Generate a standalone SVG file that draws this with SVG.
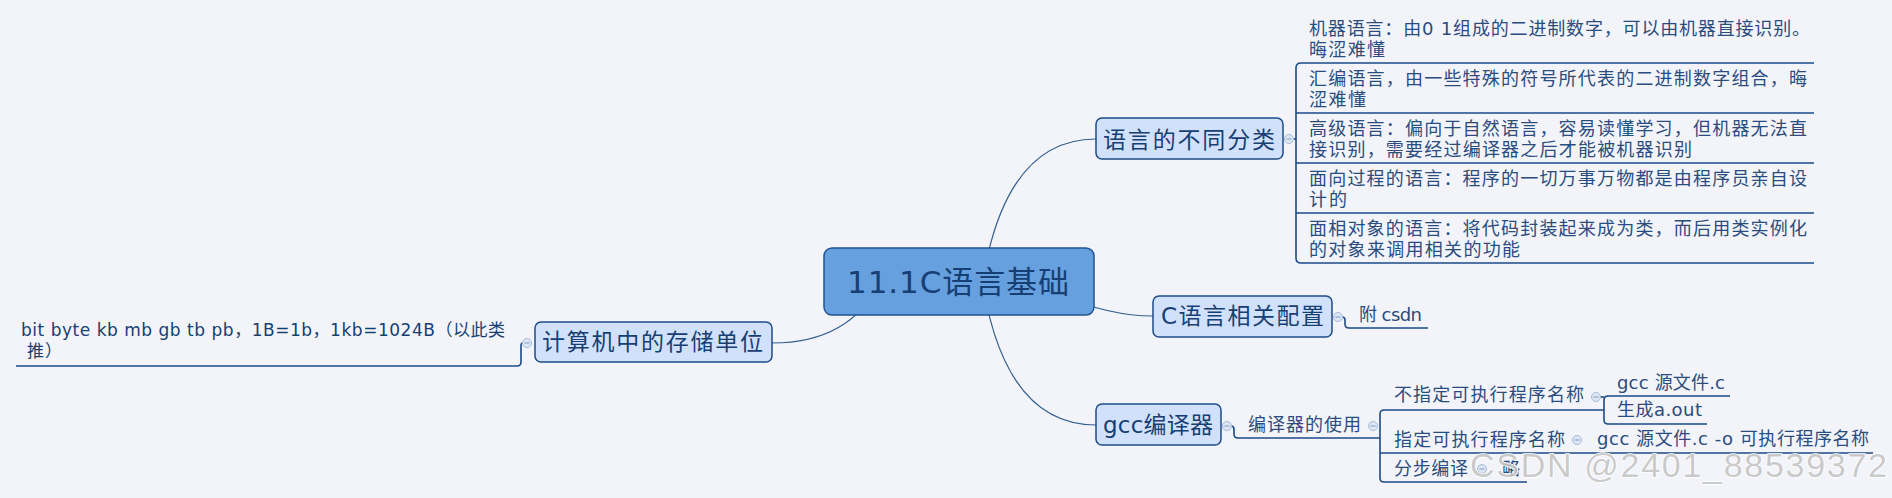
<svg xmlns="http://www.w3.org/2000/svg" xmlns:xlink="http://www.w3.org/1999/xlink" width="1892" height="498" viewBox="0 0 1892 498">
<style>
.t{font-family:"DejaVu Sans","Noto Sans CJK SC",sans-serif;fill:#163f73}
.big{font-size:23px}
.sm{font-size:18px;fill:#2a4c7f}
.node{fill:#d2e1fb;stroke:#1d4c88;stroke-width:1.5}
.root{fill:#67a0df;stroke:#22528e;stroke-width:1.5}
.curve{fill:none;stroke:#33608f;stroke-width:1.2}
.ul{fill:none;stroke:#1b4a86;stroke-width:1.6}
.col{fill:#dde6f4;stroke:#a7bbd8;stroke-width:1}
.minus{stroke:#8ea7cc;stroke-width:1.2}
.wm{font-family:"Liberation Sans","Noto Sans",sans-serif;font-size:34px;fill:#bdbdbd;fill-opacity:0.8;stroke:#ffffff;stroke-width:1.5;paint-order:stroke}
</style>
<defs>
<g id="cb"><circle r="4.5" class="col"/><line x1="-2.5" y1="0" x2="2.5" y2="0" class="minus"/></g>
</defs>
<rect x="0" y="0" width="1892" height="498" fill="#f2f4f9"/>

<g id="connectors">
<path class="curve" d="M980 300 Q1000 139 1096 139"/>
<path class="curve" d="M1060 295 Q1110 316 1153 316"/>
<path class="curve" d="M980 265 Q1000 425 1096 425"/>
<path class="curve" d="M880 282 Q850 343 772 343"/>
<path class="ul" d="M1293.5 139 L1296 139"/>
<path class="ul" d="M1814 63 L1301 63 Q1296 63 1296 68 L1296 258 Q1296 263 1301 263 L1814 263"/>
<path class="ul" d="M1296 113 L1814 113 M1296 163 L1814 163 M1296 213 L1814 213"/>
<path class="ul" d="M1342 317 Q1345 317 1345 320 L1345 324 Q1345 328 1349 328 L1428 328"/>
<path class="ul" d="M1231 426 Q1234 426 1234 429 L1234 434 Q1234 438 1238 438 L1380 438"/>
<path class="ul" d="M1604 410 L1384 410 Q1380 410 1380 414 L1380 478 Q1380 482 1384 482 L1527 482"/>
<path class="ul" d="M1380 453 L1873 453"/>
<path class="ul" d="M1730 396 L1608 396 Q1604 396 1604 400 L1604 420 Q1604 424 1608 424 L1707 424"/>
<path class="ul" d="M1600 397 L1604 397"/>
<path class="ul" d="M522.5 343 Q521 343 521 346 L521 362 Q521 366 517 366 L16 366"/>
</g>

<g id="root">
<rect class="root" x="824" y="248" width="270" height="67" rx="8"/>
<text class="t" x="847" y="293" font-size="31" textLength="222" fill="#0f3a70">11.1C语言基础</text>
</g>

<g id="lang-types">
<rect class="node" x="1096" y="118" width="187" height="41" rx="6"/>
<text class="t big" x="1103" y="148" textLength="172">语言的不同分类</text>
<use xlink:href="#cb" x="1289" y="139"/>
</g>
<g id="leaf-machine">
<text class="t sm" x="1309" y="35" textLength="501">机器语言：由0 1组成的二进制数字，可以由机器直接识别。</text>
<text class="t sm" x="1309" y="56" textLength="76">晦涩难懂</text>
</g>
<g id="leaf-asm">
<text class="t sm" x="1309" y="85" textLength="498">汇编语言，由一些特殊的符号所代表的二进制数字组合，晦</text>
<text class="t sm" x="1309" y="106" textLength="57">涩难懂</text>
</g>
<g id="leaf-high">
<text class="t sm" x="1309" y="135" textLength="498">高级语言：偏向于自然语言，容易读懂学习，但机器无法直</text>
<text class="t sm" x="1309" y="156" textLength="383">接识别，需要经过编译器之后才能被机器识别</text>
</g>
<g id="leaf-proc">
<text class="t sm" x="1309" y="185" textLength="498">面向过程的语言：程序的一切万事万物都是由程序员亲自设</text>
<text class="t sm" x="1309" y="206" textLength="38">计的</text>
</g>
<g id="leaf-oop">
<text class="t sm" x="1309" y="235" textLength="498">面相对象的语言：将代码封装起来成为类，而后用类实例化</text>
<text class="t sm" x="1309" y="256" textLength="211">的对象来调用相关的功能</text>
</g>

<g id="c-config">
<rect class="node" x="1153" y="296" width="179" height="41" rx="6"/>
<text class="t big" x="1161" y="324" textLength="163">C语言相关配置</text>
<use xlink:href="#cb" x="1338" y="317"/>
</g>
<g id="leaf-csdn">
<text class="t sm" x="1359" y="321" textLength="63">附 csdn</text>
</g>

<g id="gcc">
<rect class="node" x="1096" y="404" width="125" height="41" rx="6"/>
<text class="t big" x="1103" y="433" textLength="110">gcc编译器</text>
<use xlink:href="#cb" x="1227" y="426"/>
</g>
<g id="gcc-use">
<text class="t sm" x="1248" y="431" textLength="113">编译器的使用</text>
<use xlink:href="#cb" x="1373" y="426"/>
</g>
<g id="gcc-noname">
<text class="t sm" x="1394" y="401" textLength="190">不指定可执行程序名称</text>
<use xlink:href="#cb" x="1596" y="397"/>
</g>
<g id="gcc-noname-cmd">
<text class="t sm" x="1617" y="389" textLength="108">gcc 源文件.c</text>
</g>
<g id="gcc-noname-out">
<text class="t sm" x="1617" y="416" textLength="85">生成a.out</text>
</g>
<g id="gcc-name">
<text class="t sm" x="1394" y="446" textLength="171">指定可执行程序名称</text>
<use xlink:href="#cb" x="1577" y="440"/>
</g>
<g id="gcc-name-cmd">
<text class="t sm" x="1597" y="445" textLength="272">gcc 源文件.c -o 可执行程序名称</text>
</g>
<g id="gcc-step">
<text class="t sm" x="1394" y="475" textLength="74">分步编译</text>
<use xlink:href="#cb" x="1482" y="469"/>
</g>
<g id="gcc-step-leaf">
<text class="t sm" x="1502" y="475">略</text>
</g>

<g id="storage">
<rect class="node" x="535" y="322" width="237" height="40" rx="6"/>
<text class="t big" x="542" y="350" textLength="221">计算机中的存储单位</text>
<use xlink:href="#cb" x="527" y="343"/>
</g>
<g id="leaf-units">
<text class="t" x="21" y="336" font-size="17" textLength="484" fill="#1f4478">bit byte kb mb gb tb pb，1B=1b，1kb=1024B（以此类</text>
<text class="t" x="27" y="357" font-size="17" textLength="35" fill="#1f4478">推）</text>
</g>

<text class="wm" x="1470" y="477" textLength="417">CSDN @2401_88539372</text>
</svg>
